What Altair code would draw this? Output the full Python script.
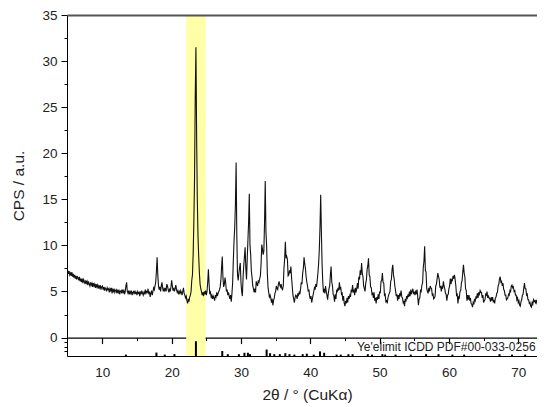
import altair as alt
import pandas as pd

# ---- measured XRD pattern: one row per degree (2θ = row start + 0.1*j) ----
row_start = 5
cps_rows = [
    [7.3, 6.9, 7.2, 6.8, 7.0, 6.7, 7.1, 6.6, 6.9, 6.5],   # 5
    [6.8, 6.4, 6.7, 6.3, 6.6, 6.5, 6.2, 6.6, 6.1, 6.4],   # 6
    [6.0, 6.4, 5.9, 6.3, 6.1, 5.8, 6.2, 5.9, 6.1, 5.7],   # 7
    [6.1, 5.8, 5.6, 6.0, 5.7, 5.9, 5.5, 5.9, 5.6, 5.8],   # 8
    [5.4, 5.8, 5.5, 5.7, 5.3, 5.6, 5.4, 5.7, 5.2, 5.5],   # 9
    [5.6, 5.2, 5.5, 5.1, 5.4, 5.3, 5.0, 5.4, 5.2, 5.3],   # 10
    [4.9, 5.3, 5.1, 5.4, 4.8, 5.2, 5.0, 5.3, 4.9, 5.1],   # 11
    [5.2, 4.8, 5.1, 4.9, 5.2, 4.7, 5.0, 5.1, 4.8, 5.2],   # 12
    [4.9, 5.1, 4.7, 5.0, 5.6, 6.0, 5.0, 4.8, 5.1, 4.7],   # 13
    [5.0, 4.8, 5.1, 4.6, 4.9, 5.0, 4.7, 5.1, 4.8, 4.9],   # 14
    [4.6, 5.0, 4.8, 4.9, 4.5, 5.0, 4.7, 5.1, 4.8, 4.6],   # 15
    [5.0, 4.7, 5.2, 4.8, 5.0, 4.9, 5.3, 4.7, 5.0, 4.4],   # 16
    [4.8, 5.1, 4.6, 5.0, 5.4, 5.2, 5.6, 6.0, 7.2, 8.7],   # 17
    [6.8, 5.6, 5.2, 5.5, 5.0, 5.6, 6.0, 5.4, 5.0, 5.3],   # 18
    [5.1, 5.4, 5.0, 5.8, 5.6, 5.2, 4.9, 5.3, 5.0, 5.5],   # 19
    [6.2, 5.6, 5.1, 5.4, 5.0, 5.3, 5.7, 5.2, 4.9, 5.1],   # 20
    [4.8, 5.0, 4.7, 5.1, 4.9, 4.6, 5.0, 5.4, 4.8, 4.6],   # 21
    [4.3, 4.5, 4.0, 3.7, 4.2, 3.9, 4.4, 4.6, 5.0, 6.2],   # 22
    [6.8, 9.0, 12.5, 17.2, 26.0, 31.5, 22.0, 15.0, 11.0, 8.8],  # 23
    [7.0, 5.8, 5.3, 5.0, 4.6, 4.9, 4.5, 5.0, 4.7, 5.1],   # 24
    [4.6, 5.0, 6.0, 7.4, 5.8, 4.7, 4.9, 4.4, 4.6, 4.2],   # 25
    [4.5, 4.3, 4.0, 4.6, 4.4, 4.9, 4.5, 4.8, 5.0, 5.2],   # 26
    [5.5, 6.2, 7.6, 8.8, 6.5, 5.5, 5.8, 6.5, 5.9, 5.0],   # 27
    [5.2, 4.6, 4.9, 4.5, 4.2, 4.6, 3.9, 4.8, 6.0, 8.5],   # 28
    [10.5, 12.0, 14.5, 19.0, 11.0, 6.8, 6.2, 7.0, 7.6, 8.1],  # 29
    [6.0, 5.0, 4.5, 6.5, 7.8, 8.8, 9.8, 7.5, 6.3, 8.5],   # 30
    [10.5, 12.5, 15.6, 10.0, 9.0, 7.2, 6.5, 5.6, 5.3, 4.9],  # 31
    [5.3, 4.9, 6.1, 5.8, 5.6, 6.2, 6.0, 6.4, 6.7, 8.0],   # 32
    [10.1, 9.6, 9.0, 9.4, 12.5, 17.0, 11.5, 10.0, 7.0, 5.5],  # 33
    [4.9, 4.4, 4.6, 4.3, 3.8, 4.2, 3.5, 4.0, 4.3, 4.8],   # 34
    [5.0, 5.6, 5.3, 5.2, 5.8, 6.1, 5.7, 5.5, 5.8, 5.3],   # 35
    [5.2, 5.6, 7.5, 8.5, 10.4, 8.6, 8.8, 8.5, 6.7, 6.8],  # 36
    [7.3, 7.0, 7.7, 6.5, 5.5, 4.6, 4.2, 3.8, 4.3, 4.6],   # 37
    [4.5, 4.2, 4.8, 4.6, 4.9, 4.7, 5.3, 6.0, 5.8, 7.0],   # 38
    [7.5, 8.7, 8.0, 7.5, 6.6, 6.0, 5.6, 5.0, 5.2, 4.5],   # 39
    [4.2, 4.5, 3.8, 4.2, 4.6, 5.0, 5.4, 5.2, 5.8, 5.5],   # 40
    [6.2, 7.0, 8.0, 9.5, 12.0, 15.5, 11.5, 8.0, 6.0, 4.9],  # 41
    [5.3, 4.8, 5.6, 5.0, 4.6, 4.1, 4.8, 5.3, 5.6, 6.8],   # 42
    [7.7, 6.0, 5.6, 4.7, 4.5, 3.9, 4.7, 4.2, 5.1, 5.0],   # 43
    [5.4, 5.1, 6.0, 5.3, 5.4, 4.7, 4.8, 4.0, 4.5, 3.7],   # 44
    [3.4, 4.0, 3.7, 4.3, 3.8, 4.5, 4.2, 4.6, 4.4, 5.1],   # 45
    [5.0, 5.7, 4.9, 5.1, 4.6, 5.4, 4.9, 5.3, 5.9, 5.3],   # 46
    [6.6, 6.3, 7.3, 6.8, 8.1, 7.0, 6.6, 5.6, 5.3, 5.0],   # 47
    [5.9, 6.3, 7.4, 7.8, 8.6, 6.8, 6.6, 5.5, 5.4, 4.7],   # 48
    [4.8, 4.3, 4.9, 4.0, 4.3, 3.7, 4.4, 4.1, 4.7, 4.2],   # 49
    [5.0, 4.8, 6.1, 6.2, 7.0, 6.0, 5.9, 4.6, 4.7, 3.9],   # 50
    [4.0, 3.7, 4.3, 4.6, 4.8, 5.0, 6.1, 6.3, 7.4, 7.9],   # 51
    [6.8, 6.4, 5.6, 5.1, 4.5, 4.7, 4.0, 4.6, 4.2, 4.8],   # 52
    [4.6, 5.1, 4.4, 4.3, 3.8, 4.0, 3.4, 4.2, 3.9, 4.5],   # 53
    [4.3, 4.7, 4.4, 5.0, 4.5, 5.2, 4.7, 5.0, 5.3, 4.8],   # 54
    [4.9, 4.6, 5.1, 4.7, 5.2, 4.4, 3.5, 4.2, 4.3, 5.1],   # 55
    [5.0, 5.7, 5.9, 7.6, 8.3, 9.9, 7.3, 7.1, 5.3, 5.0],   # 56
    [4.8, 5.4, 5.0, 5.6, 5.4, 5.3, 4.6, 4.7, 4.2, 4.3],   # 57
    [4.5, 5.6, 5.8, 6.4, 7.0, 6.6, 6.3, 5.4, 5.6, 5.0],   # 58
    [5.5, 5.3, 6.1, 5.6, 5.3, 4.8, 4.7, 4.0, 4.6, 4.7],   # 59
    [5.3, 5.6, 6.4, 5.8, 6.3, 6.2, 6.7, 6.4, 6.8, 6.3],   # 60
    [5.6, 4.6, 4.7, 3.7, 4.4, 4.3, 5.0, 5.1, 5.9, 6.2],   # 61
    [7.1, 7.9, 7.0, 6.6, 5.3, 5.1, 4.0, 4.6, 4.1, 4.6],   # 62
    [4.0, 4.3, 3.7, 3.6, 3.3, 3.8, 3.6, 4.2, 4.0, 4.4],   # 63
    [4.3, 4.8, 4.3, 4.9, 4.7, 5.1, 4.9, 4.9, 4.3, 4.6],   # 64
    [3.8, 4.0, 4.1, 4.7, 4.6, 5.0, 4.3, 4.5, 4.3, 4.2],   # 65
    [3.9, 4.4, 4.0, 4.4, 3.9, 4.0, 3.7, 4.3, 4.4, 4.8],   # 66
    [4.9, 5.6, 5.8, 6.4, 6.6, 6.0, 6.1, 5.6, 5.9, 5.2],   # 67
    [5.1, 4.6, 4.6, 4.1, 4.2, 4.3, 4.7, 4.6, 5.1, 5.0],   # 68
    [5.6, 5.7, 5.4, 5.5, 5.0, 5.1, 4.6, 4.6, 4.1, 4.3],   # 69
    [3.8, 4.0, 3.5, 3.4, 3.9, 4.1, 4.6, 4.7, 5.4, 5.9],   # 70
    [5.3, 5.3, 4.6, 4.7, 4.1, 4.1, 3.7, 3.8, 3.4, 3.3],   # 71
    [3.8, 3.6, 4.1, 3.9, 4.0, 3.8, 4.1, 3.7, 3.8, 3.5],   # 72
    [3.3, 3.6, 3.7, 3.5, 3.9, 3.8, 3.6, 3.9, 3.7, 3.9],   # 73
    [3.6, 3.8, 3.5],                                      # 74
]

# ---- Ye'elimit reference pattern (stick positions and heights) ----
ref_pos = [13.4, 17.8, 19.0, 20.4, 23.5, 27.3, 28.1, 29.7, 30.5, 31.0, 31.3,
           33.7, 34.2, 34.8, 35.6, 36.4, 37.0, 37.7, 38.9, 39.5, 40.5, 41.4,
           42.0, 43.8, 44.4, 45.5, 46.1, 48.3, 48.9, 50.4, 50.8, 52.3, 54.5,
           56.7, 58.5, 60.5, 62.2, 67.3, 69.1, 71.0]
ref_height = [0.15, 0.37, 0.15, 0.2, 1.6, 0.54, 0.2, 0.2, 0.35, 0.35, 0.2,
              0.7, 0.3, 0.2, 0.2, 0.3, 0.2, 0.15, 0.2, 0.25, 0.15, 0.5,
              0.35, 0.15, 0.15, 0.2, 0.2, 0.2, 0.15, 0.2, 0.15, 0.15, 0.15,
              0.2, 0.2, 0.15, 0.15, 0.2, 0.15, 0.15]
ref_floor = -2

# highlighted 2θ window
band_start = [22.1]
band_end = [24.9]

ref_label = ["Ye'elimit ICDD PDF#00-033-0256"]
ref_label_x = [72.5]
ref_label_y = [-1.5]

x_major = [10, 20, 30, 40, 50, 60, 70]
x_minor = [15, 25, 35, 45, 55, 65]
y_major = [0, 5, 10, 15, 20, 25, 30, 35]
y_minor = [2.5, 7.5, 12.5, 17.5, 22.5, 27.5, 32.5, -0.5, -1.0, -1.5]

X_DOM = [4.9, 74.15]
Y_DOM = [-2, 35]
W, H = 480, 341
ZERO_OFFSET = -(0 - Y_DOM[0]) * H / (Y_DOM[1] - Y_DOM[0])

# ---- tables ----
xs_, ys_ = [], []
for r, row in enumerate(cps_rows):
    for j, v in enumerate(row):
        xs_.append(round(row_start + r + 0.1 * j, 2))
        ys_.append(v)
xrd = pd.DataFrame({"two_theta": xs_, "cps": ys_})
ref = pd.DataFrame({"pos": ref_pos,
                    "base": [ref_floor] * len(ref_pos),
                    "top": [ref_floor + h for h in ref_height]})
band = pd.DataFrame({"start": band_start, "end": band_end})
lab = pd.DataFrame({"x": ref_label_x, "y": ref_label_y, "t": ref_label})

xsc = alt.Scale(domain=X_DOM, nice=False, zero=False)
ysc = alt.Scale(domain=Y_DOM, nice=False, zero=False)

band_layer = alt.Chart(band).mark_rect(color="#ffffa8").encode(
    x=alt.X("start:Q", scale=xsc,
            axis=alt.Axis(orient="bottom", values=x_major, ticks=False, tickSize=0,
                          labelPadding=9, title="2θ / ° (CuKα)", titlePadding=9,
                          labelFlush=False, domainColor="#000", domainWidth=1)),
    x2="end:Q",
    y=alt.value(0),
    y2=alt.value(H),
)

line_layer = alt.Chart(xrd).mark_line(color="#111", strokeWidth=1.1, clip=True).encode(
    x=alt.X("two_theta:Q", scale=xsc,
            axis=alt.Axis(orient="bottom", offset=ZERO_OFFSET, values=x_major, tickSize=6,
                          labels=False, title=None, domainColor="#000", domainWidth=1.3,
                          tickColor="#000", tickWidth=1.2)),
    y=alt.Y("cps:Q", scale=ysc,
            axis=alt.Axis(orient="left", values=y_major, tickSize=6, labelPadding=4,
                          title="CPS / a.u.", titlePadding=15, labelFlush=False,
                          domainColor="#000", tickColor="#000")),
)

stick_layer = alt.Chart(ref).mark_rule(color="#000", strokeWidth=2).encode(
    x=alt.X("pos:Q", scale=xsc,
            axis=alt.Axis(orient="bottom", offset=ZERO_OFFSET, values=x_minor, tickSize=3,
                          labels=False, domain=False, title=None, tickColor="#000")),
    y=alt.Y("base:Q", scale=ysc,
            axis=alt.Axis(orient="left", values=y_minor, tickSize=3, labels=False,
                          domain=False, title=None, tickColor="#000")),
    y2="top:Q",
)

text_layer = alt.Chart(lab).mark_text(align="right", baseline="alphabetic", fontSize=12,
                                      font="Liberation Sans", color="#222").encode(
    x=alt.X("x:Q", scale=xsc,
            axis=alt.Axis(orient="top", ticks=False, labels=False, title=None,
                          domainWidth=2, domainColor="#555", zindex=1)),
    y=alt.Y("y:Q", scale=ysc, axis=None),
    text="t:N",
)

chart = (
    alt.layer(band_layer, line_layer, stick_layer, text_layer)
    .resolve_axis(x="independent", y="independent")
    .properties(width=W, height=H,
                padding={"left": 3, "top": 0, "right": -10, "bottom": 0})
    .configure_view(stroke=None)
    .configure_axis(grid=False, labelFont="Liberation Sans", titleFont="Liberation Sans",
                    labelFontSize=13.5, titleFontSize=15.5, labelColor="#222",
                    titleColor="#222", titleFontWeight="normal")
)

chart.save("out.html", embed_options={"renderer": "svg", "actions": False})
